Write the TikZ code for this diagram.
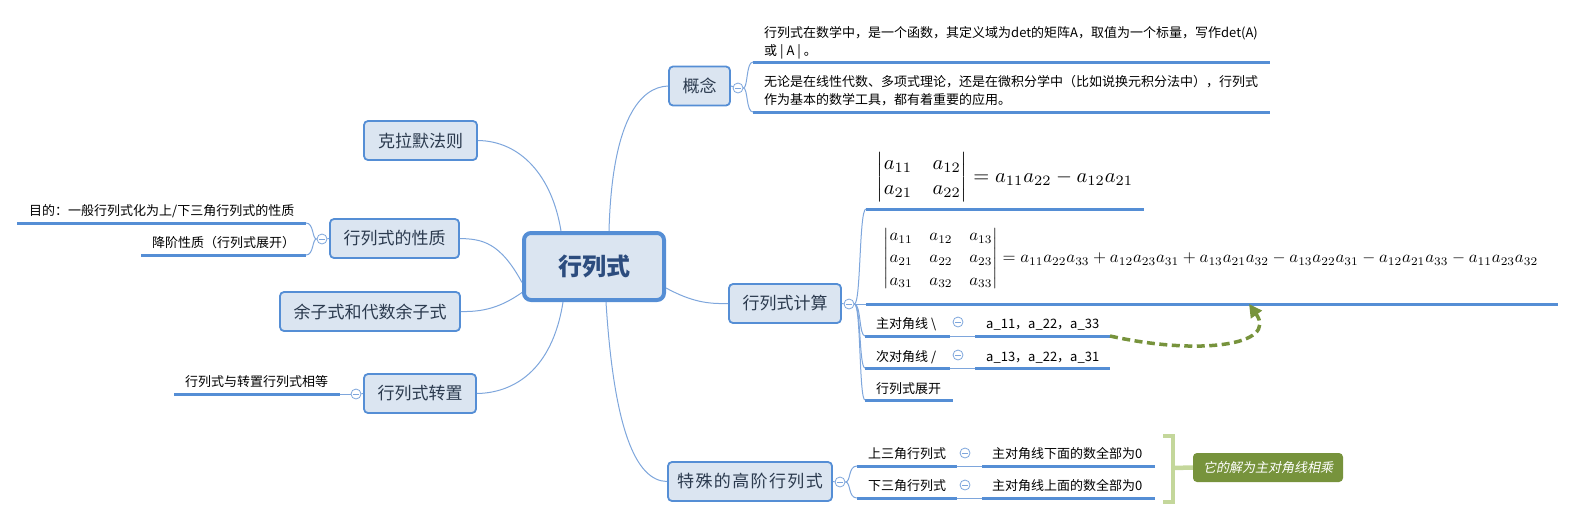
\documentclass[tikz,border=0pt]{standalone}
\usepackage{amsmath}
\usepackage{graphicx}
\usepackage[no-math]{fontspec}
\setmainfont{Noto Sans CJK SC}
\newfontfamily\cjkit{Noto Sans CJK SC}[FakeSlant=0.2]
\usetikzlibrary{arrows.meta}
\definecolor{boxfill}{HTML}{DBE5F1}
\definecolor{boxline}{HTML}{558ED5}
\definecolor{linkcol}{HTML}{7EA6DC}
\definecolor{tcol}{HTML}{2B3A4E}
\definecolor{ctext}{HTML}{2C4C7E}
\definecolor{olivec}{HTML}{77933C}
\definecolor{lgreen}{HTML}{C4D79B}
\begin{document}
\begin{tikzpicture}[x=1pt,y=-1pt,
  centre/.style={draw=boxline, line width=4pt, rounded corners=7pt, fill=boxfill, text=ctext,
    font=\fontsize{24}{28}\selectfont\bfseries, minimum width=140, minimum height=67, inner sep=0},
  topic/.style={draw=boxline, line width=1.8pt, rounded corners=4pt, fill=boxfill, text=tcol,
    font=\fontsize{17}{20}\selectfont, minimum height=39, inner sep=0},
  lbl/.style={font=\fontsize{13}{18}\selectfont, text=black, inner sep=0, anchor=base west},
  uline/.style={draw=boxline, line width=3pt},
  link/.style={draw=linkcol, line width=1pt},
  fold/.style={circle, draw=linkcol, fill=white, line width=0.8pt, minimum size=10, inner sep=0,
    path picture={\draw[linkcol, line width=0.8pt] ([xshift=-2.6pt]path picture bounding box.center) -- ([xshift=2.6pt]path picture bounding box.center);}},
]
\useasboundingbox (0,0) rectangle (1574,520);

% ---------- central and main topics ----------
\node[centre] (root) at (594,266.5) {行列式};
\node[topic, minimum width=61]  (gn)  at (699.5,86)  {概念};
\node[topic, minimum width=113] (krm) at (420.5,140.5) {克拉默法则};
\node[topic, minimum width=129] (xz)  at (394.5,238.5) {行列式的性质};
\node[topic, minimum width=180] (yzs) at (370,311.5) {余子式和代数余子式};
\node[topic, minimum width=112] (zz)  at (420,393.5) {行列式转置};
\node[topic, minimum width=112] (js)  at (785,303.5) {行列式计算};
\node[topic, minimum width=164] (ts)  at (750,481.5) {\addfontfeature{LetterSpace=8}特殊的高阶行列式};

% connectors from root
\draw[link] ([xshift=15pt]root.north) .. controls (612,120) and (640,87) .. (gn.west);
\draw[link] ([xshift=-33pt]root.north) .. controls (552,175) and (520,141) .. (krm.east);
\draw[link] ([yshift=-16pt]root.west) .. controls (500,242) and (482,239) .. (xz.east);
\draw[link] ([yshift=-26pt]root.west) .. controls (500,308) and (482,312) .. (yzs.east);
\draw[link] ([xshift=-31pt]root.south) .. controls (552,372) and (512,393) .. (zz.east);
\draw[link] ([xshift=12pt]root.south) .. controls (614,430) and (636,481) .. (ts.west);
\draw[link] ([yshift=-21.5pt]root.east) .. controls (692,302) and (708,304) .. (js.west);

% ---------- 概念 ----------
\node[fold] (fgn) at (738,88) {};
\draw[link] (gn.east) -- (fgn);
\coordinate (g1s) at (753,62);  \coordinate (g1e) at (1270,62);
\coordinate (g2s) at (753,112); \coordinate (g2e) at (1270,112);
\draw[uline] (g1s) -- (g1e);
\draw[uline] (g2s) -- (g2e);
\draw[link] (fgn.east) .. controls (748,88) and (746,62) .. (g1s);
\draw[link] (fgn.east) .. controls (748,88) and (746,112) .. (g2s);
\node[lbl] (g1t) at (764,37) {\begin{tabular}[t]{@{}l@{}}行列式在数学中，是一个函数，其定义域为det的矩阵A，取值为一个标量，写作det(A)\\或 | A | 。\end{tabular}};
\node[lbl] (g2t) at (764,86) {\begin{tabular}[t]{@{}l@{}}无论是在线性代数、多项式理论，还是在微积分学中（比如说换元积分法中），行列式\\作为基本的数学工具，都有着重要的应用。\end{tabular}};

% ---------- 行列式的性质 ----------
\node[fold] (fxz) at (322,239) {};
\draw[link] (xz.west) -- (fxz);
\coordinate (x1s) at (17,223);  \coordinate (x1e) at (306,223);
\coordinate (x2s) at (141,255); \coordinate (x2e) at (306,255);
\draw[uline] (x1s) -- (x1e);
\draw[uline] (x2s) -- (x2e);
\draw[link] (fxz.west) .. controls (312,239) and (314,223) .. (x1e);
\draw[link] (fxz.west) .. controls (312,239) and (314,255) .. (x2e);
\node[lbl] (x1t) at (29,215) {目的：一般行列式化为上/下三角行列式的性质};
\node[lbl] (x2t) at (152,247) {降阶性质（行列式展开）};

% ---------- 行列式转置 ----------
\node[fold] (fzz) at (356,394) {};
\draw[link] (zz.west) -- (fzz);
\coordinate (z1s) at (174,394); \coordinate (z1e) at (340,394);
\draw[uline] (z1s) -- (z1e);
\draw[link] (fzz.west) -- (z1e);
\node[lbl] (z1t) at (185,386) {行列式与转置行列式相等};

% ---------- 行列式计算 ----------
\node[fold] (fjs) at (849,304) {};
\draw[link] (js.east) -- (fjs);
\coordinate (c1s) at (866,209); \coordinate (c1e) at (1144,209);
\coordinate (c2s) at (866,304); \coordinate (c2e) at (1558,304);
\coordinate (c3s) at (865,336); \coordinate (c3e) at (950,336);
\coordinate (c4s) at (865,368); \coordinate (c4e) at (950,368);
\coordinate (c5s) at (865,400); \coordinate (c5e) at (953,400);
\coordinate (d3s) at (975,336); \coordinate (d3e) at (1110,336);
\coordinate (d4s) at (975,368); \coordinate (d4e) at (1110,368);
\foreach \p in {c1,c2,c3,c4,c5,d3,d4} {\draw[uline] (\p s) -- (\p e);}
\draw[link] (fjs.east) .. controls (861,304) and (859,209) .. (c1s);
\draw[link] (fjs.east) -- (c2s);
\draw[link] (fjs.east) .. controls (861,304) and (859,336) .. (c3s);
\draw[link] (fjs.east) .. controls (861,304) and (859,368) .. (c4s);
\draw[link] (fjs.east) .. controls (861,304) and (859,400) .. (c5s);
\draw[link] (c3e) -- (d3s);
\draw[link] (c4e) -- (d4s);
\node[fold] (fzd) at (958,322) {};
\node[fold] (fcd) at (958,355) {};
\node[inner sep=0] (f1) at (1005,177) {\renewcommand{\arraystretch}{1.0}\resizebox{256pt}{!}{$\begin{vmatrix}a_{11}&a_{12}\\a_{21}&a_{22}\end{vmatrix}=a_{11}a_{22}-a_{12}a_{21}$}};
\node[inner sep=0] (f2) at (1211,258.5) {\renewcommand{\arraystretch}{1.1}\resizebox{654pt}{!}{$\begin{vmatrix}a_{11}&a_{12}&a_{13}\\a_{21}&a_{22}&a_{23}\\a_{31}&a_{32}&a_{33}\end{vmatrix}=a_{11}a_{22}a_{33}+a_{12}a_{23}a_{31}+a_{13}a_{21}a_{32}-a_{13}a_{22}a_{31}-a_{12}a_{21}a_{33}-a_{11}a_{23}a_{32}$}};
\node[lbl] (c3t) at (876,328) {主对角线 \textbackslash};
\node[lbl] (c4t) at (876,361) {次对角线 /};
\node[lbl] (c5t) at (876,393) {行列式展开};
\node[lbl] (d3t) at (986,328) {a\_11，a\_22，a\_33};
\node[lbl] (d4t) at (986,361) {a\_13，a\_22，a\_31};
\draw[olivec, line width=3.5pt, dash pattern=on 8pt off 4.5pt, -{Triangle[length=13pt,width=13pt]}]
  (d3e) .. controls (1200,356) and (1278,345) .. (1249,304);

% ---------- 特殊的高阶行列式 ----------
\node[fold] (fts) at (840,482) {};
\draw[link] (ts.east) -- (fts);
\coordinate (s1s) at (857,466); \coordinate (s1e) at (957,466);
\coordinate (s2s) at (857,498); \coordinate (s2e) at (957,498);
\coordinate (t1s) at (982,466); \coordinate (t1e) at (1155,466);
\coordinate (t2s) at (982,498); \coordinate (t2e) at (1155,498);
\foreach \p in {s1,s2,t1,t2} {\draw[uline] (\p s) -- (\p e);}
\draw[link] (fts.east) .. controls (851,482) and (848,466) .. (s1s);
\draw[link] (fts.east) .. controls (851,482) and (848,498) .. (s2s);
\draw[link] (s1e) -- (t1s);
\draw[link] (s2e) -- (t2s);
\node[fold] (fu) at (965,453) {};
\node[fold] (fd) at (965,485) {};
\node[lbl] (s1t) at (868,458) {上三角行列式};
\node[lbl] (s2t) at (868,490) {下三角行列式};
\node[lbl] (t1t) at (992,458) {主对角线下面的数全部为0};
\node[lbl] (t2t) at (992,490) {主对角线上面的数全部为0};

% summary
\coordinate (bt) at (1163,436); \coordinate (bb) at (1163,502);
\node[fill=olivec, rounded corners=4pt, minimum width=150, minimum height=29, inner sep=0,
  text=white, font=\fontsize{13}{16}\cjkit] (sum) at (1268,467.5) {它的解为主对角线相乘};
\draw[lgreen, line width=4.5pt] (bt) -- ++(10,0) |- (bb);
\draw[lgreen, line width=4.5pt] (1173,468) -- (sum.west);
\end{tikzpicture}
\end{document}
